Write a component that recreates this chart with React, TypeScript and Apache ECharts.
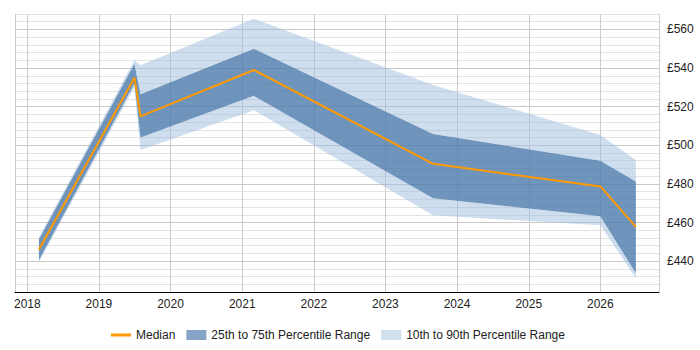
import React, { useEffect, useRef } from "react";
import * as echarts from "echarts";

const dates = ["2018-03-01", "2019-07-01", "2019-08-01", "2021-03-01", "2023-09-01", "2026-01-01", "2026-07-01"];
const median = [446, 535, 515, 539, 490.4, 478.7, 457.7];
const p25 = [440.5, 532, 504, 525.6, 472.6, 463.2, 433.7];
const p75 = [451.3, 542.2, 526.4, 550, 505.8, 492, 481.2];
const p10 = [439.5, 530, 497.6, 518.2, 463.7, 458.6, 431.1];
const p90 = [452.4, 544, 541.4, 565.6, 531.2, 505.3, 492.4];

const NAME_MED = "Median";
const NAME_IQR = "25th to 75th Percentile Range";
const NAME_DEC = "10th to 90th Percentile Range";

const FONT = "'Liberation Sans', Arial, sans-serif";
const DARK = "rgba(76,122,172,0.8)";
const LIGHT = "rgba(157,189,221,0.5)";

export default function App() {
  const ref = useRef<HTMLDivElement>(null);
  useEffect(() => {
    if (!ref.current) return;
    const chart = echarts.init(ref.current, null, { renderer: "svg" });
    const pair = (arr: number[]) => dates.map((d, i) => [d, arr[i]]);
    const diff = (a: number[], b: number[]) => dates.map((d, i) => [d, +(a[i] - b[i]).toFixed(2)]);
    const areaBase = {
      type: "line",
      stack: "band",
      symbol: "none",
      lineStyle: { width: 0, opacity: 0 },
      emphasis: { disabled: true },
      silent: true,
    };
    chart.setOption({
      animation: false,
      textStyle: { fontFamily: FONT },
      grid: { left: 15, right: 41, top: 14, bottom: 58 },
      legend: {
        top: 324,
        left: 106,
        itemWidth: 20,
        itemHeight: 10,
        itemGap: 11,
        textStyle: { fontSize: 12, color: "#222", fontFamily: FONT },
        data: [
          { name: NAME_MED, icon: "path://M0 0H20V3H0Z", itemStyle: { color: "#ff9900" } },
          { name: NAME_IQR, icon: "rect", itemStyle: { color: "#85a3c6" } },
          { name: NAME_DEC, icon: "rect", itemStyle: { color: "#d0e0ef" } },
        ],
      },
      xAxis: {
        type: "time",
        min: "2017-10-30",
        max: "2026-10-27",
        minInterval: 365 * 86400000,
        maxInterval: 366 * 86400000,
        axisLine: { show: true, lineStyle: { color: "#000", width: 1 } },
        axisTick: { show: false },
        axisLabel: {
          color: "#222",
          fontSize: 12,
          fontFamily: FONT,
          margin: 6,
          formatter: (v: number) => String(new Date(v).getFullYear()),
        },
        splitLine: { show: true, lineStyle: { color: "#cccccc", width: 1 } },
      },
      yAxis: {
        type: "value",
        position: "right",
        min: 424,
        max: 568,
        interval: 4,
        axisLine: { show: false },
        axisTick: { show: false },
        axisLabel: {
          color: "#222",
          fontSize: 12,
          fontFamily: FONT,
          margin: 8,
          formatter: (v: number) => (Math.round(v) % 20 === 0 ? "£" + Math.round(v) : ""),
        },
        splitLine: {
          show: true,
          lineStyle: { color: ["#e3e3e3", "#e3e3e3", "#e3e3e3", "#e3e3e3", "#c8c8c8"], width: 1 },
        },
      },
      series: [
        { ...areaBase, name: "base", data: pair(p10), areaStyle: { opacity: 0 } },
        { ...areaBase, name: NAME_DEC, data: diff(p25, p10), areaStyle: { color: LIGHT, opacity: 1 }, itemStyle: { color: "#d0e0ef" } },
        { ...areaBase, name: NAME_IQR, data: diff(p75, p25), areaStyle: { color: DARK, opacity: 1 }, itemStyle: { color: "#85a3c6" } },
        { ...areaBase, name: NAME_DEC, data: diff(p90, p75), areaStyle: { color: LIGHT, opacity: 1 }, itemStyle: { color: "#d0e0ef" } },
        {
          type: "line",
          name: NAME_MED,
          data: pair(median),
          symbol: "none",
          lineStyle: { color: "#ff9900", width: 2 },
          itemStyle: { color: "#ff9900" },
          emphasis: { disabled: true },
          z: 5,
        },
      ],
    });
    return () => chart.dispose();
  }, []);
  return <div ref={ref} style={{ width: 700, height: 350, position: "absolute", left: 0, top: 0 }} />;
}
